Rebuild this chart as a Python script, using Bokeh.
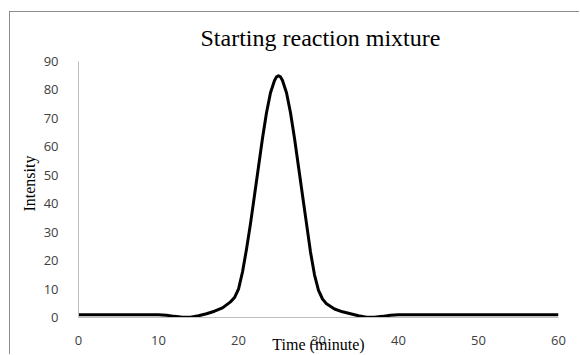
from bokeh.plotting import figure
from bokeh.models import Range1d, FixedTicker, Title
from bokeh.embed import file_html
from bokeh.resources import INLINE

time_min = [0, 2, 4, 6, 8, 10, 11, 12, 13, 14, 15, 16, 17, 18, 19, 19.5, 20, 20.5, 21,
            21.5, 22, 22.5, 23, 23.5, 24, 24.5, 24.75, 25, 25.25, 25.5, 26, 26.5, 27, 27.5,
            28, 28.5, 29, 29.5, 30, 30.5, 31, 32, 33, 34, 35, 36, 37, 38, 39, 40, 45, 50,
            55, 60]
intensity = [1, 1, 1, 1, 1, 1, 0.8, 0.4, 0.1, 0.1, 0.6, 1.3, 2.2, 3.4, 5.5, 7, 10, 16, 24,
             33, 43, 53, 63, 72, 79, 83.3, 84.6, 85, 84.6, 83.3, 79, 72, 63, 53,
             43, 33, 23, 15, 9.5, 6.5, 4.8, 3, 2, 1.3, 0.6, 0.1, 0.1, 0.4, 0.8, 1, 1, 1,
             1, 1]
x_ticks = [0, 10, 20, 30, 40, 50, 60]
y_ticks = [0, 10, 20, 30, 40, 50, 60, 70, 80, 90]
title_text = "Starting reaction mixture"
x_title = "Time (minute)"
y_title = "Intensity"

p = figure(width=570, height=343, output_backend="svg", toolbar_location=None,
           x_range=Range1d(0, 60), y_range=Range1d(0, 90),
           min_border_left=68, min_border_right=22, min_border_top=10, min_border_bottom=37,
           margin=(11, 0, 0, 9),
           styles={"border-left": "1px solid #8c8c8c", "border-top": "1px solid #8c8c8c"})
p.outline_line_color = None
p.grid.visible = False
p.background_fill_color = "white"

p.title.text = title_text
p.title.align = "left"
p.title.offset = 122
p.title.text_font = "Liberation Serif"
p.title.text_font_style = "normal"
p.title.text_font_size = "24px"
p.title.text_line_height = 1.0
p.title.text_color = "black"
p.title.standoff = 21

for ax in (p.xaxis[0], p.yaxis[0]):
    ax.major_tick_line_color = None
    ax.minor_tick_line_color = None
    ax.axis_line_color = "#bfbfbf"
    ax.major_label_text_font = "Open Sans"
    ax.major_label_text_font_size = "13px"
    ax.major_label_text_color = "#404040"
p.xaxis[0].ticker = FixedTicker(ticks=x_ticks)
p.yaxis[0].ticker = FixedTicker(ticks=y_ticks)
p.xaxis[0].major_label_standoff = 12
p.yaxis[0].major_label_standoff = 14

p.xaxis[0].axis_label = x_title
p.xaxis[0].axis_label_standoff = -12
p.xaxis[0].axis_label_text_font = "Liberation Serif"
p.xaxis[0].axis_label_text_font_style = "normal"
p.xaxis[0].axis_label_text_font_size = "16px"
p.xaxis[0].axis_label_text_color = "black"

yt = Title(text=y_title, align="left", offset=106, standoff=6,
           text_font="Liberation Serif", text_font_style="normal",
           text_font_size="16px", text_color="black")
p.add_layout(yt, "left")

p.line(time_min, intensity, line_color="black", line_width=3, line_join="round")

open("out.html", "w").write(file_html(p, INLINE))
